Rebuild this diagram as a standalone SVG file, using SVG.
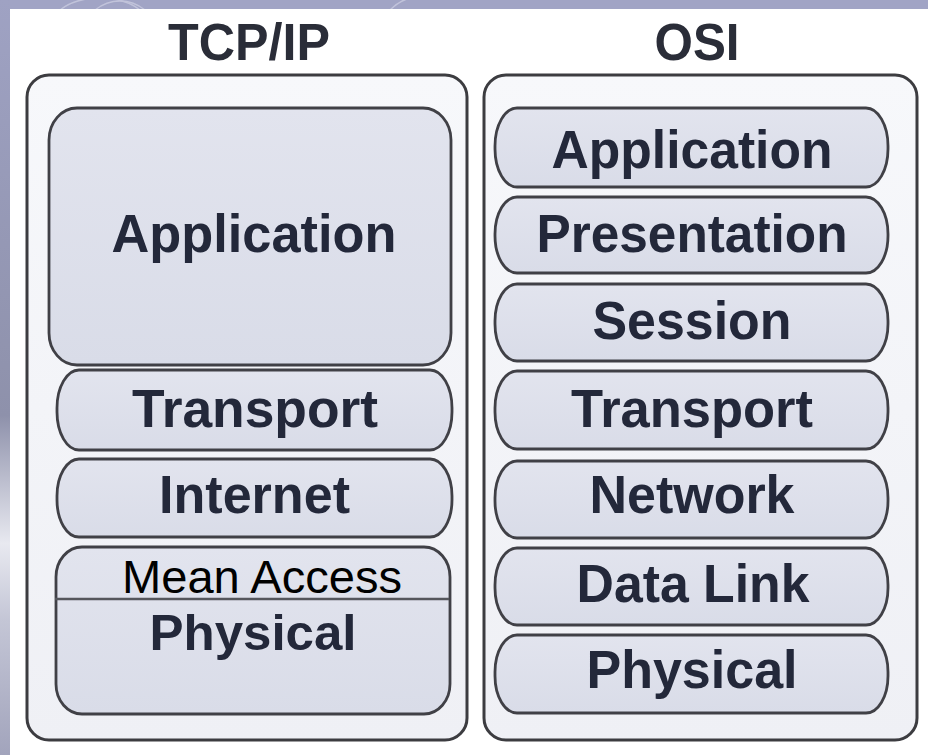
<svg xmlns="http://www.w3.org/2000/svg" width="928" height="755" viewBox="0 0 928 755">
  <defs>
    <linearGradient id="leftStrip" x1="0" y1="0" x2="0" y2="1">
      <stop offset="0" stop-color="#9fa2c3"/>
      <stop offset="0.55" stop-color="#8e91ab"/>
      <stop offset="0.72" stop-color="#e8e9f0"/>
      <stop offset="0.82" stop-color="#c4c6d6"/>
      <stop offset="1" stop-color="#a2a4bc"/>
    </linearGradient>
    <linearGradient id="panelFill" x1="0" y1="0" x2="0" y2="1">
      <stop offset="0" stop-color="#f7f8fb"/>
      <stop offset="1" stop-color="#eff0f5"/>
    </linearGradient>
    <linearGradient id="layerFill" x1="0" y1="0" x2="0" y2="1">
      <stop offset="0" stop-color="#e2e4ee"/>
      <stop offset="1" stop-color="#d9dce8"/>
    </linearGradient>
  </defs>
  <style>
    .panel { fill: url(#panelFill); stroke: #3c3c40; stroke-width: 3; }
    .layer { fill: url(#layerFill); stroke: #404046; stroke-width: 2.8; }
    .title { font-family: "Liberation Sans", Arial, sans-serif; font-weight: bold; font-size: 52px; fill: #2a2d38; text-anchor: middle; }
    .lbl { font-family: "Liberation Sans", Arial, sans-serif; font-weight: bold; font-size: 53px; fill: #23283a; text-anchor: middle; }
    .plain { font-family: "Liberation Sans", Arial, sans-serif; font-size: 46px; fill: #000000; text-anchor: middle; }
  </style>

  <!-- background -->
  <rect x="0" y="0" width="928" height="755" fill="#a1a4c5"/>
  <rect x="0" y="0" width="10" height="755" fill="url(#leftStrip)"/>
  <g fill="none" stroke="#c9cbe0" stroke-width="1.5" opacity="0.8">
    <path d="M60 10 C 80 -6, 120 -6, 140 10"/>
    <path d="M95 10 C 110 -2, 130 -2, 145 10"/>
    <path d="M390 10 C 400 0, 410 -4, 425 -2"/>
  </g>
  <rect x="10" y="9" width="918" height="746" fill="#ffffff"/>

  <!-- titles -->
  <text class="title" x="249" y="60" textLength="162" lengthAdjust="spacingAndGlyphs">TCP/IP</text>
  <text class="title" x="697" y="60" textLength="85" lengthAdjust="spacingAndGlyphs">OSI</text>

  <!-- panels -->
  <g id="panel-tcpip">
    <rect class="panel" x="27" y="75" width="440" height="665" rx="22" ry="22"/>
  </g>
  <g id="panel-osi">
    <rect class="panel" x="484" y="75" width="433" height="665" rx="22" ry="22"/>
  </g>

  <!-- TCP/IP layers -->
  <g id="tcp-application">
    <rect class="layer" x="49" y="108" width="402" height="257" rx="28" ry="32"/>
    <text class="lbl" x="254" y="252" textLength="285" lengthAdjust="spacingAndGlyphs">Application</text>
  </g>
  <g id="tcp-transport">
    <rect class="layer" x="57" y="370" width="395" height="80" rx="22" ry="38"/>
    <text class="lbl" x="255" y="427" textLength="246" lengthAdjust="spacingAndGlyphs">Transport</text>
  </g>
  <g id="tcp-internet">
    <rect class="layer" x="57" y="459" width="395" height="78" rx="22" ry="37"/>
    <text class="lbl" x="254.5" y="513" textLength="191" lengthAdjust="spacingAndGlyphs">Internet</text>
  </g>
  <g id="tcp-access-physical">
    <rect class="layer" x="56" y="547" width="394" height="167" rx="26" ry="30"/>
    <line x1="55" y1="599" x2="449" y2="599" stroke="#55565c" stroke-width="2.5"/>
    <text class="plain" x="262" y="593" textLength="280" lengthAdjust="spacingAndGlyphs">Mean Access</text>
    <text class="lbl" x="253" y="650" style="font-size:50px" textLength="207" lengthAdjust="spacingAndGlyphs">Physical</text>
  </g>

  <!-- OSI layers -->
  <g id="osi-application">
    <rect class="layer" x="495" y="108" width="393" height="79" rx="22" ry="38"/>
    <text class="lbl" x="692" y="168" textLength="281" lengthAdjust="spacingAndGlyphs">Application</text>
  </g>
  <g id="osi-presentation">
    <rect class="layer" x="495" y="197" width="393" height="76" rx="22" ry="37"/>
    <text class="lbl" x="692" y="252" textLength="311" lengthAdjust="spacingAndGlyphs">Presentation</text>
  </g>
  <g id="osi-session">
    <rect class="layer" x="495" y="284" width="393" height="77" rx="22" ry="37"/>
    <text class="lbl" x="692" y="339" textLength="199" lengthAdjust="spacingAndGlyphs">Session</text>
  </g>
  <g id="osi-transport">
    <rect class="layer" x="495" y="371" width="393" height="78" rx="22" ry="37"/>
    <text class="lbl" x="692" y="427" textLength="242" lengthAdjust="spacingAndGlyphs">Transport</text>
  </g>
  <g id="osi-network">
    <rect class="layer" x="495" y="461" width="393" height="77" rx="22" ry="37"/>
    <text class="lbl" x="692" y="513" textLength="205" lengthAdjust="spacingAndGlyphs">Network</text>
  </g>
  <g id="osi-datalink">
    <rect class="layer" x="495" y="548" width="393" height="77" rx="22" ry="37"/>
    <text class="lbl" x="693" y="602" textLength="233" lengthAdjust="spacingAndGlyphs">Data Link</text>
  </g>
  <g id="osi-physical">
    <rect class="layer" x="495" y="635" width="393" height="78" rx="22" ry="37"/>
    <text class="lbl" x="692" y="688" textLength="211" lengthAdjust="spacingAndGlyphs">Physical</text>
  </g>

  <g id="connectors"/>
</svg>
